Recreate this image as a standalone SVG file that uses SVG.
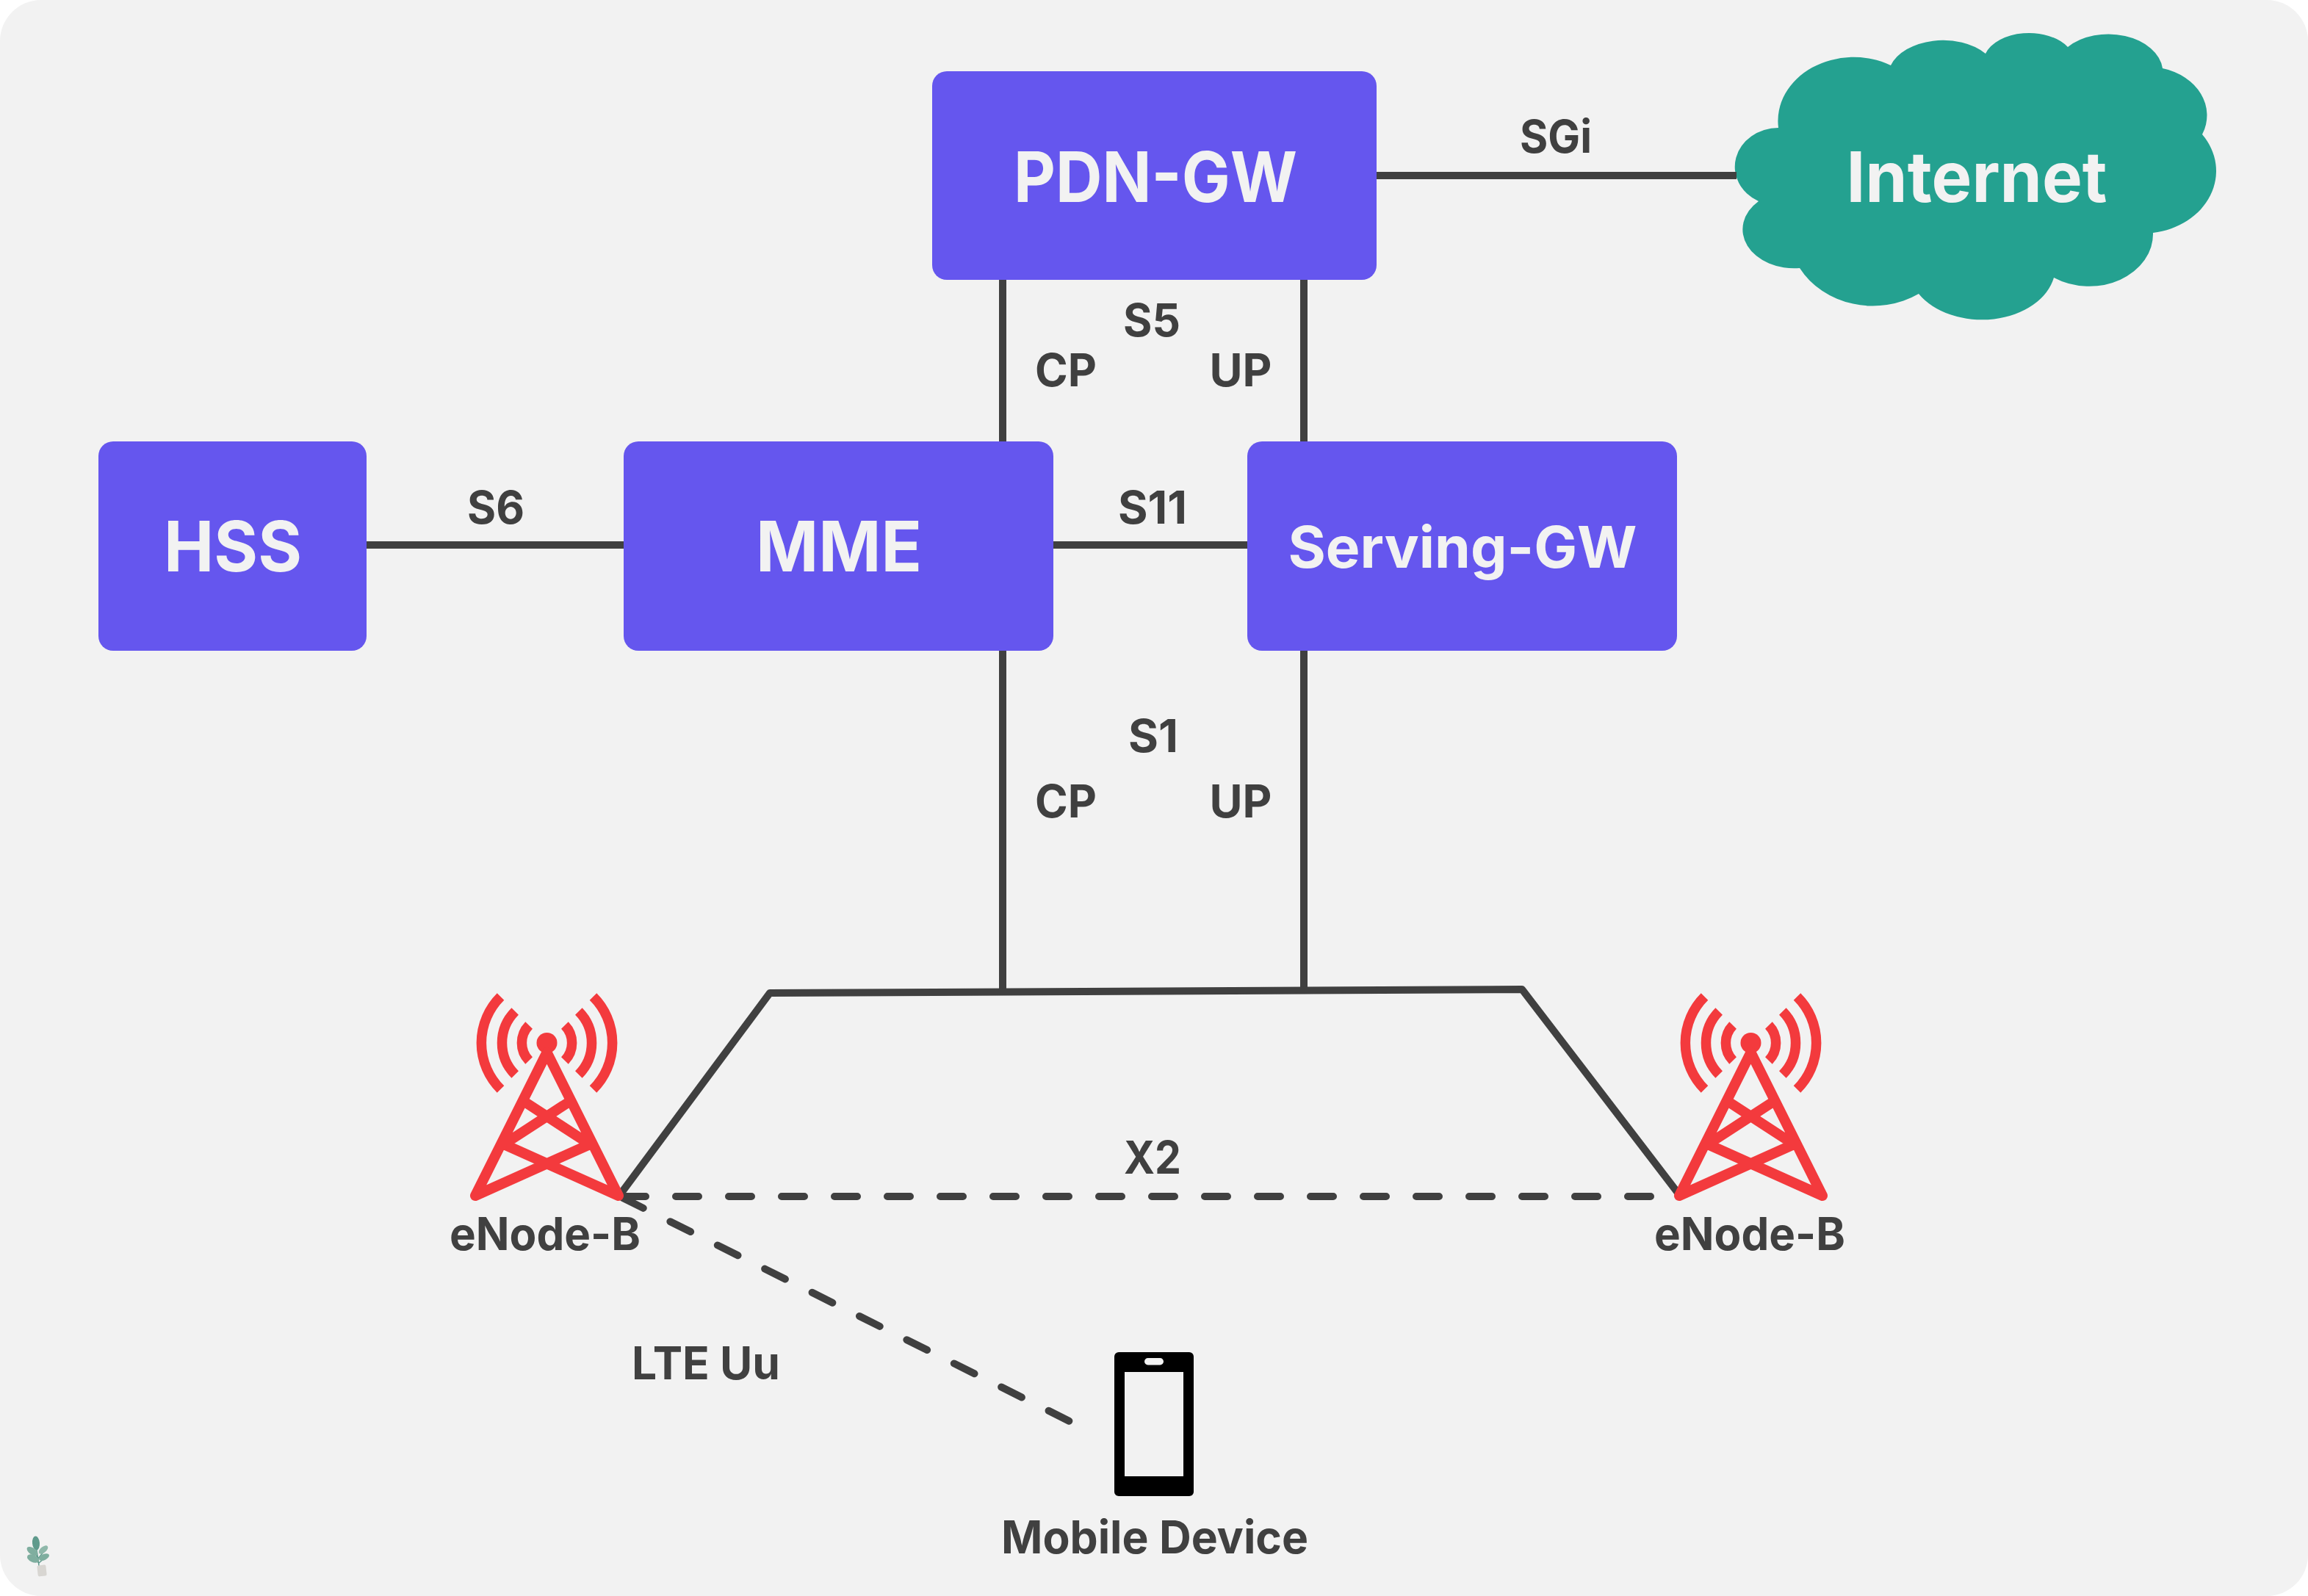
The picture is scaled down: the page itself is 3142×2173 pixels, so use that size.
<svg xmlns="http://www.w3.org/2000/svg" width="3142" height="2173" viewBox="0 0 3142 2173">
<style>
.n{fill:#6556ee}
text{font-family:Inter,"Liberation Sans",sans-serif;font-weight:700;text-anchor:middle}
.t{fill:#f2f2f2;font-size:95px}
.l{fill:#404040;font-size:62px}
.c{fill:none;stroke:#404040;stroke-width:10}
.e{stroke-linecap:round;stroke-linejoin:round}
.d{stroke-dasharray:31 41}
.r{fill:none;stroke:#f33a3d;stroke-width:13.500}
.j{stroke-width:14;stroke-linecap:round;stroke-linejoin:round}
</style>
<defs>
<g id="tower">
<circle cx="744.500" cy="1420" r="14" fill="#f33a3d"/>
<path class="r" d="M681.500 1357A89 89 0 0 0 681.500 1483M807.500 1357A89 89 0 0 1 807.500 1483M701.200 1377A61 61 0 0 0 701.200 1463M787.800 1377A61 61 0 0 1 787.800 1463M720.100 1396A34.500 34.500 0 0 0 720.100 1444M768.900 1396A34.500 34.500 0 0 1 768.900 1444"/>
<path class="r j" d="M744.500 1433L647 1628L803 1558L717 1502M744.500 1433L842 1628L686 1558L772 1502"/>
</g>
</defs>
<rect width="3142" height="2173" fill="#fff"/>
<rect width="3142" height="2173" rx="56" fill="#f2f2f2"/>
<g id="internet"><path fill="#24a190" d="M2421 174A103 87 0 0 1 2574 89A75 50 0 0 1 2703 73A62 40 0 0 1 2815 64A74 52 0 0 1 2944 93A80 66 0 0 1 2998 183A100 85 0 0 1 2931 317A87 71 0 0 1 2796 378A100 72 0 0 1 2612 400A115 103 0 0 1 2450 365A70 53 0 0 1 2394 274A60 53 0 0 1 2421 174Z"/><text class="t" x="2691" y="275" textLength="355" lengthAdjust="spacingAndGlyphs">Internet</text></g>
<g id="connectors">
<path class="c" d="M1874 239H2364M499 742H850M1434 742H1698M1365 381V601M1775 381V601M1365 886V1350M1775 886V1348"/>
<path class="c e" d="M846 1624L1048 1352L2072 1347L2284 1624"/>
<path class="c e d" d="M848 1629H2284M848 1631L1460 1937"/>
</g>
<g id="pdn-gw"><rect class="n" x="1269" y="97" width="605" height="284" rx="20"/><text class="t" x="1573" y="275" textLength="386" lengthAdjust="spacingAndGlyphs">PDN-GW</text></g>
<g id="hss"><rect class="n" x="134" y="601" width="365" height="285" rx="20"/><text class="t" x="317" y="778" textLength="188" lengthAdjust="spacingAndGlyphs">HSS</text></g>
<g id="mme"><rect class="n" x="849" y="601" width="585" height="285" rx="20"/><text class="t" x="1142" y="778" textLength="226" lengthAdjust="spacingAndGlyphs">MME</text></g>
<g id="serving-gw"><rect class="n" x="1698" y="601" width="585" height="285" rx="20"/><text class="t" x="1991" y="773" style="font-size:78px" textLength="475" lengthAdjust="spacingAndGlyphs">Serving-GW</text></g>
<g id="enodeb-left"><use href="#tower"/><text class="l" x="742" y="1702" textLength="260" lengthAdjust="spacingAndGlyphs">eNode-B</text></g>
<g id="enodeb-right"><use href="#tower" x="1639"/><text class="l" x="2382" y="1702" textLength="260" lengthAdjust="spacingAndGlyphs">eNode-B</text></g>
<g id="mobile-device"><rect x="1517" y="1841" width="108" height="196" rx="6" fill="#000"/><rect x="1531" y="1868" width="80" height="142" fill="#f2f2f2"/><rect x="1558" y="1849" width="26" height="9.500" rx="4.700" fill="#f2f2f2"/><text class="l" x="1572" y="2115" textLength="418" lengthAdjust="spacingAndGlyphs">Mobile Device</text></g>
<g id="labels">
<text class="l" x="2118" y="208" textLength="98" lengthAdjust="spacingAndGlyphs">SGi</text>
<text class="l" x="1568" y="458" textLength="78" lengthAdjust="spacingAndGlyphs">S5</text>
<text class="l" x="1451" y="526" textLength="84" lengthAdjust="spacingAndGlyphs">CP</text>
<text class="l" x="1689" y="526" textLength="85" lengthAdjust="spacingAndGlyphs">UP</text>
<text class="l" x="675" y="713" textLength="78" lengthAdjust="spacingAndGlyphs">S6</text>
<text class="l" x="1569" y="713" textLength="94" lengthAdjust="spacingAndGlyphs">S11</text>
<text class="l" x="1570" y="1024" textLength="68" lengthAdjust="spacingAndGlyphs">S1</text>
<text class="l" x="1451" y="1113" textLength="84" lengthAdjust="spacingAndGlyphs">CP</text>
<text class="l" x="1689" y="1113" textLength="85" lengthAdjust="spacingAndGlyphs">UP</text>
<text class="l" x="1569" y="1598" textLength="78" lengthAdjust="spacingAndGlyphs">X2</text>
<text class="l" x="961" y="1878" textLength="202" lengthAdjust="spacingAndGlyphs">LTE Uu</text>
</g>
<g id="plant">
<path d="M53 2132C52 2122 50 2112 49 2104M52 2122C54 2119 57 2116 60 2112M51 2120C49 2117 47 2115 45 2113M52 2127C50 2126 48 2125 46 2124M53 2128C55 2126 58 2124 60 2122" stroke="#5f9a8c" stroke-width="1.500" fill="none"/>
<ellipse cx="49" cy="2101" rx="5" ry="9.500" transform="rotate(-5 49 2101)" fill="#5f9a8c"/>
<ellipse cx="44" cy="2112" rx="8.500" ry="4.500" transform="rotate(35 44 2112)" fill="#7fae9f"/>
<ellipse cx="59" cy="2110" rx="7.500" ry="4" transform="rotate(-40 59 2110)" fill="#8fb8aa"/>
<ellipse cx="45" cy="2122" rx="8.500" ry="5" transform="rotate(25 45 2122)" fill="#7fae9f"/>
<ellipse cx="60" cy="2120" rx="7.500" ry="4" transform="rotate(-25 60 2120)" fill="#7fae9f"/>
<rect x="51" y="2131" width="12" height="15" rx="2" fill="#d8d6d2" transform="rotate(-6 57 2138)"/>
</g>
</svg>
